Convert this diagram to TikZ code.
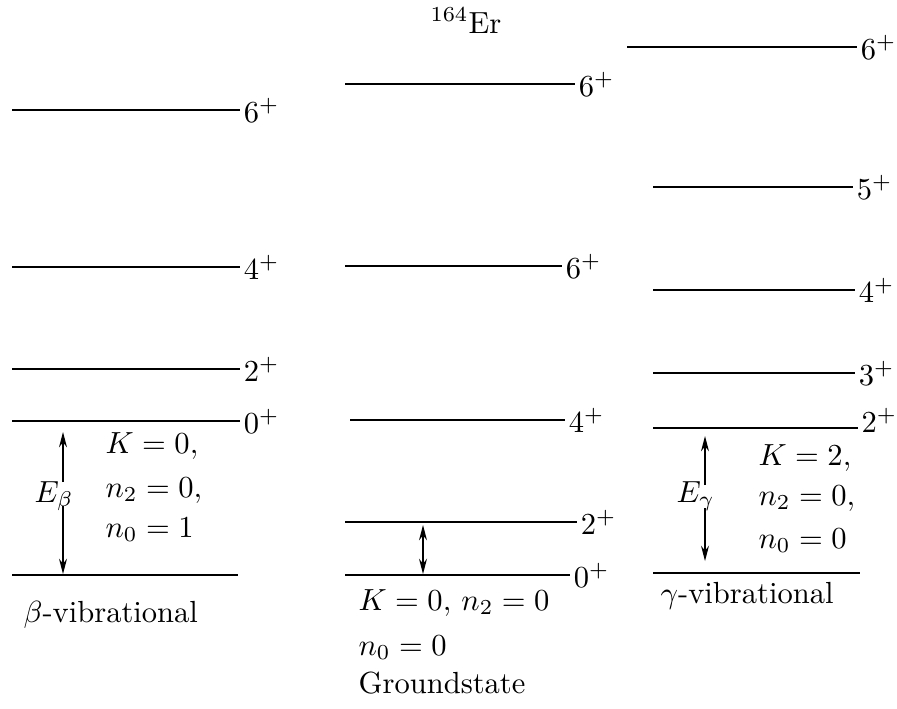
\documentclass[tikz,border=0pt]{standalone}
\usepackage{amsmath}
\usepackage{tikz}
\usetikzlibrary{arrows.meta}

\begin{document}
\begin{tikzpicture}[x=0.0115cm, y=-0.0115cm,
		lvl/.style={line width=0.5pt},
		spin/.style={right, inner sep=1pt},
		txt/.style={anchor=base west, inner sep=0pt},
		gap/.style={line width=0.5pt, -{Stealth[length=5pt,width=2.6pt]}}]
		\useasboundingbox (0,0) rectangle (897,708);
		% beta 振动带
		\draw[lvl] (12,110) -- (240,110) node[spin] {$6^+$};
		\draw[lvl] (12,267) -- (240,267) node[spin] {$4^+$};
		\draw[lvl] (12,369) -- (240,369) node[spin] {$2^+$};
		\draw[lvl] (12,421) -- (240,421) node[spin] {$0^+$};
		\draw[lvl] (12,575) -- (238,575);
		\node[txt] (Kb) at (105,453) {$K=0,$};
		\node[txt] (nb2) at (105,497) {$n_2=0,$};
		\node[txt] (nb0) at (105,537) {$n_0=1$};
		\node[txt] (Eb) at (34,502) {$E_\beta$};
		\coordinate (bTop) at (63,432);
		\coordinate (bMidA) at (63,482);
		\coordinate (bMidB) at (63,506);
		\coordinate (bBot) at (63,574);
		\draw[gap] (bMidA) -- (bTop);
		\draw[gap] (bMidB) -- (bBot);
		\node[txt] (bName) at (23,622) {$\beta$-vibrational};
		% 基带
		\node[txt] (Er) at (430,33) {$^{164}$Er};
		\draw[lvl] (345,84) -- (575,84) node[spin] {$6^+$};
		\draw[lvl] (345,266) -- (562,266) node[spin] {$6^+$};
		\draw[lvl] (350,420) -- (565,420) node[spin] {$4^+$};
		\draw[lvl] (345,522) -- (577,522) node[spin] {$2^+$};
		\draw[lvl] (345,575) -- (570,575) node[spin] {$0^+$};
		\coordinate (gTop) at (423,525);
		\coordinate (gBot) at (423,574);
		\draw[gap, {Stealth[length=5pt,width=2.6pt]}-{Stealth[length=5pt,width=2.6pt]}] (gTop) -- (gBot);
		\node[txt] (Kg) at (358,610) {$K=0,\, n_2=0$};
		\node[txt] (ng0) at (358,655) {$n_0=0$};
		\node[txt] (gName) at (358,693) {Groundstate};
		% gamma 振动带
		\draw[lvl] (627,47) -- (857,47) node[spin] {$6^+$};
		\draw[lvl] (653,187) -- (853,187) node[spin] {$5^+$};
		\draw[lvl] (653,290) -- (855,290) node[spin] {$4^+$};
		\draw[lvl] (653,373) -- (855,373) node[spin] {$3^+$};
		\draw[lvl] (653,428) -- (858,428);
		\node[spin] (gam2) at (858,420) {$2^+$};
		\draw[lvl] (653,573) -- (860,573);
		\node[txt] (Kc) at (758,465) {$K=2,$};
		\node[txt] (nc2) at (758,505) {$n_2=0,$};
		\node[txt] (nc0) at (758,548) {$n_0=0$};
		\node[txt] (Ec) at (676,502) {$E_\gamma$};
		\coordinate (cTop) at (705,436);
		\coordinate (cMidA) at (705,485);
		\coordinate (cMidB) at (705,508);
		\coordinate (cBot) at (705,561);
		\draw[gap] (cMidA) -- (cTop);
		\draw[gap] (cMidB) -- (cBot);
		\node[txt] (cName) at (660,603) {$\gamma$-vibrational};
	\end{tikzpicture}
\end{document}
